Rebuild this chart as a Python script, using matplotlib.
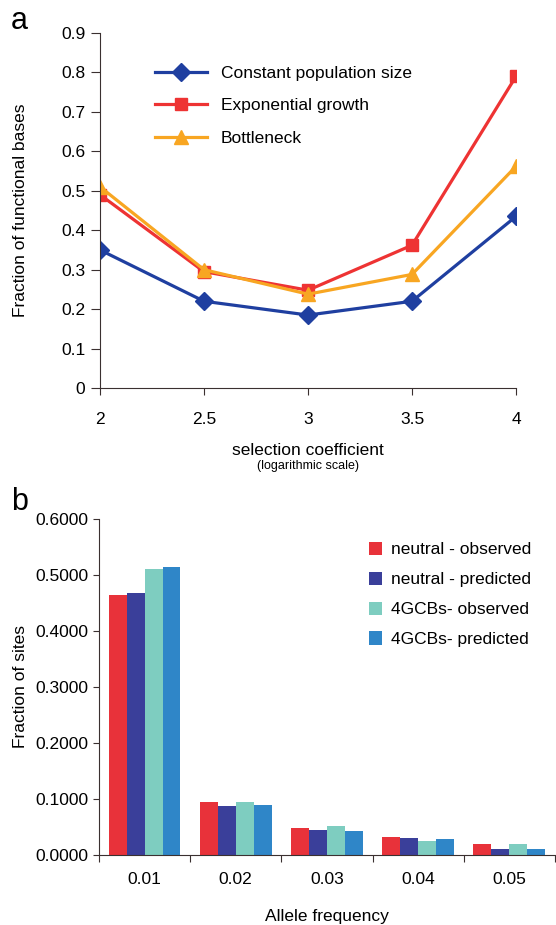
import matplotlib
matplotlib.use('Agg')
import matplotlib.pyplot as plt
import numpy as np

plt.rcParams['font.family'] = ['Liberation Sans', 'DejaVu Sans']

# panel a data
sel_coef = [2, 2.5, 3, 3.5, 4]
constant = [0.35, 0.22, 0.185, 0.22, 0.435]
exponential = [0.49, 0.295, 0.248, 0.362, 0.79]
bottleneck = [0.51, 0.30, 0.238, 0.288, 0.562]

# panel b data
allele_freq = ['0.01', '0.02', '0.03', '0.04', '0.05']
neutral_obs = [0.465, 0.094, 0.049, 0.032, 0.020]
neutral_pred = [0.467, 0.088, 0.045, 0.030, 0.011]
gcb_obs = [0.510, 0.094, 0.052, 0.025, 0.020]
gcb_pred = [0.514, 0.090, 0.043, 0.029, 0.011]
bar_labels = ['neutral - observed', 'neutral - predicted',
              '4GCBs- observed', '4GCBs- predicted']

fig = plt.figure(figsize=(5.56, 9.25), dpi=100)
spine_col = '#3a3030'
fs = 12.5

# ---- panel a ----
ax1 = fig.add_axes([0.18, 0.5805, 0.748, 0.3838])
ax1.plot(sel_coef, constant, color='#1f3fa0', lw=2.3, marker='D', ms=9,
         label='Constant population size')
ax1.plot(sel_coef, exponential, color='#ee3333', lw=2.3, marker='s', ms=9,
         label='Exponential growth')
ax1.plot(sel_coef, bottleneck, color='#f8a622', lw=2.3, marker='^', ms=10,
         label='Bottleneck')
ax1.set_xlim(2, 4)
ax1.set_ylim(0, 0.9)
ax1.set_xticks(sel_coef)
ax1.set_xticklabels(['2', '2.5', '3', '3.5', '4'])
ax1.set_yticks(np.arange(0, 0.91, 0.1))
ax1.set_yticklabels(['0'] + ['%.1f' % v for v in np.arange(0.1, 0.91, 0.1)])
ax1.set_ylabel('Fraction of functional bases', fontsize=fs, labelpad=24)
ax1.set_xlabel('selection coefficient', fontsize=fs, labelpad=12)
ax1.text(0.5, -0.22, '(logarithmic scale)', transform=ax1.transAxes,
         ha='center', va='center', fontsize=9)
ax1.legend(loc='upper left', bbox_to_anchor=(0.094, 0.952), frameon=False,
           fontsize=fs, handlelength=3, labelspacing=1.0, handletextpad=0.8)
ax1.tick_params(axis='x', labelsize=fs, length=5, pad=12, color=spine_col)
ax1.tick_params(axis='y', labelsize=fs, length=6.5, pad=4, color=spine_col)
for s in ['top', 'right']:
    ax1.spines[s].set_visible(False)
for s in ['left', 'bottom']:
    ax1.spines[s].set_color(spine_col)
fig.text(0.02, 0.977, 'a', fontsize=22, va='center')

# ---- panel b ----
ax2 = fig.add_axes([0.178, 0.0757, 0.82, 0.3632])
x = np.arange(len(allele_freq))
w = 0.197
series = [neutral_obs, neutral_pred, gcb_obs, gcb_pred]
colors = ['#e8323a', '#3a3f9a', '#7ecdc0', '#2f86c8']
for i, (vals, c, lab) in enumerate(zip(series, colors, bar_labels)):
    ax2.bar(x + (i - 1.5) * w, vals, width=w, color=c, label=lab)
ax2.set_xlim(-0.5, 4.5)
ax2.set_ylim(0, 0.6)
ax2.set_yticks(np.arange(0, 0.61, 0.1))
ax2.set_yticklabels(['%.4f' % v for v in np.arange(0, 0.61, 0.1)])
ax2.set_xticks(np.arange(-0.5, 4.6, 1.0))
ax2.set_xticklabels([])
ax2.set_xticks(x, minor=True)
ax2.set_xticklabels(allele_freq, minor=True)
ax2.tick_params(axis='x', which='major', length=5, color=spine_col)
ax2.tick_params(axis='x', which='minor', length=0, labelsize=fs, pad=12)
ax2.tick_params(axis='y', labelsize=fs, length=4.5, pad=3, color=spine_col)
ax2.set_ylabel('Fraction of sites', fontsize=fs, labelpad=5)
ax2.set_xlabel('Allele frequency', fontsize=fs, labelpad=16)
ax2.legend(loc='upper left', bbox_to_anchor=(0.557, 0.979), frameon=False,
           fontsize=fs, handlelength=0.8, handleheight=0.8,
           labelspacing=0.82, handletextpad=0.5)
for s in ['top', 'right']:
    ax2.spines[s].set_visible(False)
for s in ['left', 'bottom']:
    ax2.spines[s].set_color(spine_col)
fig.text(0.02, 0.457, 'b', fontsize=22, va='center')

fig.savefig('out.png', dpi=100)
